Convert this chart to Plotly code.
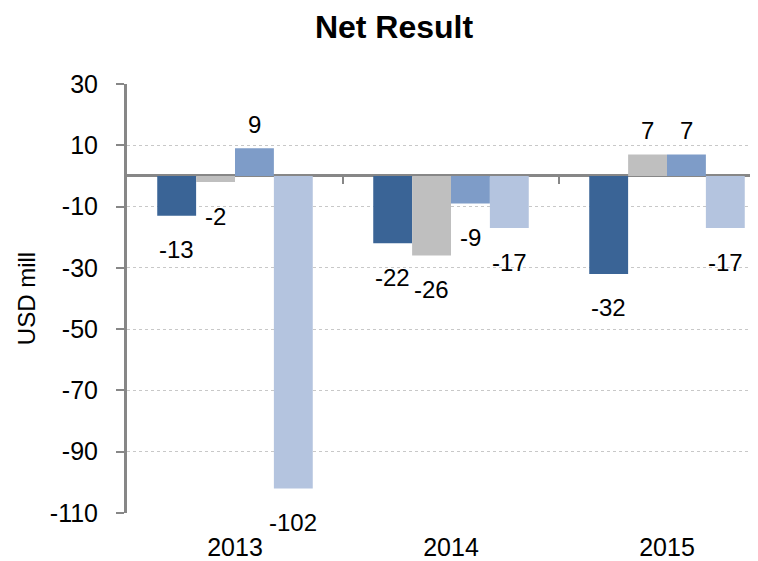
import plotly.graph_objects as go

categories = ["2013", "2014", "2015"]
series_names = ["Series 1", "Series 2", "Series 3", "Series 4"]
series_1 = [-13, -22, -32]
series_2 = [-2, -26, 7]
series_3 = [9, -9, 7]
series_4 = [-102, -17, -17]
y_ticks = [30, 10, -10, -30, -50, -70, -90, -110]

colors = ["#3A6496", "#BFBFBF", "#7E9CC8", "#B4C4DF"]
all_series = [series_1, series_2, series_3, series_4]

FONT = "Liberation Sans, Arial, sans-serif"
bar_w = 0.18
n = len(all_series)

fig = go.Figure()
annotations = []
for j, (name, vals, col) in enumerate(zip(series_names, all_series, colors)):
    xs = [i + (j - (n - 1) / 2) * bar_w for i in range(len(categories))]
    fig.add_trace(go.Bar(
        x=xs, y=vals, width=bar_w, name=name,
        marker=dict(color=col, line=dict(width=0)),
        showlegend=False, hoverinfo="y",
    ))
    for x, v in zip(xs, vals):
        annotations.append(dict(
            x=x, y=v, xref="x", yref="y", text=str(v), showarrow=False,
            yshift=(-34 if v < 0 else 24),
            font=dict(family=FONT, size=24, color="#000000"),
        ))

shapes = []
for i in range(len(categories)):
    shapes.append(dict(
        type="line", xref="x", yref="y", x0=i + 0.5, x1=i + 0.5,
        ysizemode="pixel", yanchor=0, y0=0, y1=-8,
        line=dict(color="#878787", width=2),
    ))

fig.update_layout(
    width=758, height=561,
    margin=dict(l=119, r=0, t=76, b=56),
    paper_bgcolor="white", plot_bgcolor="white",
    barmode="overlay",
    title=dict(text="<b>Net Result</b>", x=386 / 758, xanchor="center",
               y=1 - 19 / 561, yanchor="middle",
               font=dict(family=FONT, size=32, color="#000000")),
    annotations=annotations,
    shapes=shapes,
    xaxis=dict(
        range=[-0.5, -0.5 + (758 - 119) / 216],
        tickvals=list(range(len(categories))), ticktext=categories,
        showgrid=False, zeroline=False, showline=False, ticks="",
        ticklabelstandoff=17, automargin=False,
        tickfont=dict(family=FONT, size=25, color="#000000"),
    ),
    yaxis=dict(
        range=[-110, 30], tickvals=y_ticks, ticktext=[str(v) for v in y_ticks],
        showgrid=True, gridcolor="#C8C8C8", griddash="dot", gridwidth=1,
        zeroline=True, zerolinecolor="#878787", zerolinewidth=3,
        showline=True, linecolor="#878787", linewidth=3,
        ticks="outside", ticklen=8, tickwidth=2, tickcolor="#878787",
        ticklabelstandoff=13, automargin=False,
        tickfont=dict(family=FONT, size=25, color="#000000"),
        title=dict(text="USD mill", standoff=8,
                   font=dict(family=FONT, size=24, color="#000000")),
        layer="above traces",
    ),
)

fig.write_html("out.html")
